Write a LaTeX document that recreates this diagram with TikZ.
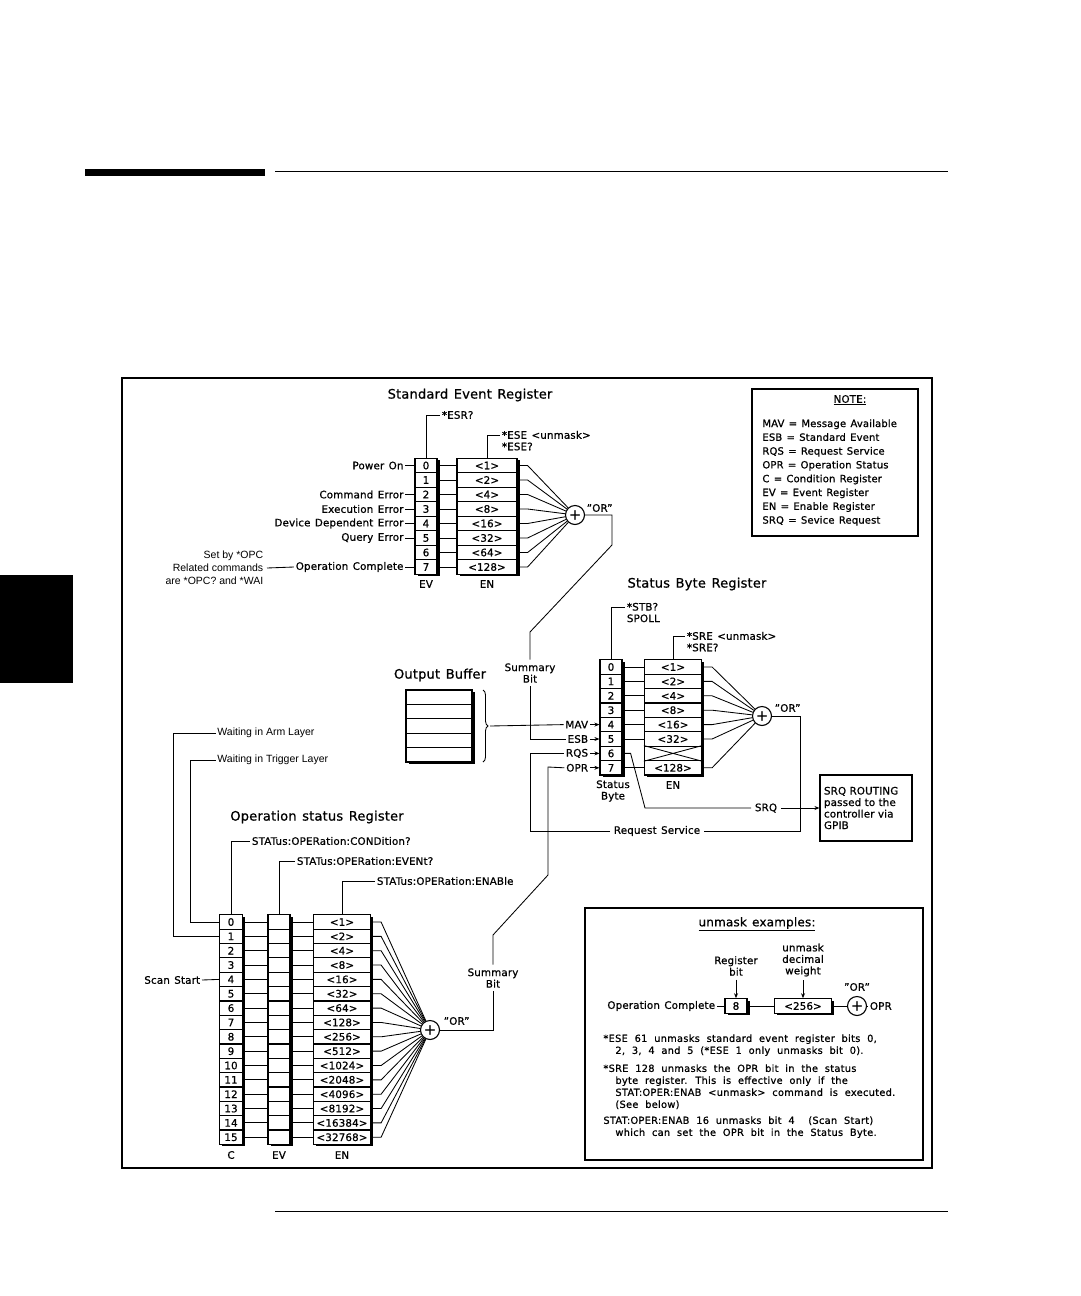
\documentclass[tikz,border=0pt]{standalone}
\usepackage{fontspec}
\setmainfont[LetterSpace=1.5,WordSpace=1.3,FakeBold=0.8]{DejaVu Sans}
\newfontfamily\arialfont{Liberation Sans}
\newfontfamily\widefont[LetterSpace=3,WordSpace=2,FakeBold=0.8]{DejaVu Sans}
\usetikzlibrary{arrows.meta,positioning,shadows,calc,decorations.pathreplacing}
\newcommand{\orq}{\symbol{34}OR\symbol{34}}
\tikzset{
    cell/.style={draw, line width=1.2pt, fill=white, minimum height=14.4pt, inner sep=0pt,
        drop shadow={shadow xshift=2.5pt, shadow yshift=-2pt, fill=black, opacity=1}},
    orgate/.style={draw, line width=1.1pt, circle, minimum size=19pt, inner sep=0pt, fill=white},
    regtitle/.style={font=\fontsize{13}{15}\selectfont},
    lbl/.style={inner sep=1.5pt},
    tip/.style={-{Stealth[length=5pt, width=4pt]}},
    framebox/.style={draw, line width=1.1pt},
    extext/.style={anchor=north west, align=left, inner sep=0pt, font=\widefont\fontsize{9.8}{12}\selectfont}
}
\begin{document}
\begin{tikzpicture}[x=1pt, y=-1pt, line width=0.85pt, font=\fontsize{10.3}{11.5}\selectfont]
\useasboundingbox (0,0) rectangle (1080,1296);
% page decoration
\fill (85,169) rectangle (265,176);
\draw (275,171) -- (948,171);
\draw (275,1211) -- (948,1211);
\fill (0,575) rectangle (73,683);
\draw[line width=1.6pt] (122,378) rectangle (932,1168);

% Standard Event Register
\node[regtitle] at (470,395) {Standard Event Register};
\foreach \w [count=\i from 0] in {1,2,4,8,16,32,64,128} {
    \node[cell, minimum width=22pt] (sev\i) at (426,{465.5+14.5*\i}) {\i};
    \node[cell, minimum width=60pt] (sen\i) at (487,{465.5+14.5*\i}) {<\w>};
}
\node[orgate] (sor) at (575,515) {\Large +};
\foreach \i in {0,...,7} {
    \draw (sev\i.east) -- (sen\i.west);
    \draw (sen\i.east) -- ++(10,0) -- (sor);
}
\foreach \i/\t in {0/Power On,2/Command Error,3/Execution Error,4/Device Dependent Error,5/Query Error} {
    \draw (sev\i.west) -- ++(-9,0) node[left, lbl] {\t};
}
\draw (sev7.west) -- ++(-9,0) node[left, lbl] (lopc) {Operation Complete};
\node[left, align=right, font=\arialfont\fontsize{10.5}{13}\selectfont] (opcnote) at (267,568) {Set by *OPC\\Related commands\\are *OPC? and *WAI};
\draw (opcnote.east) -- (lopc.west);
\node at (426,584) {EV};
\node at (487,584) {EN};
\draw (sev0.north) |- (440,415) node[right, lbl] {*ESR?};
\draw (sen0.north) |- (500,435) node[right, lbl, align=left, anchor=north west, yshift=6pt] {*ESE <unmask>\\*ESE?};
\node[right] at (583,508) {\orq};

% Summary bit from Standard Event Register
\node[align=center] (sumbit1) at (530,673) {Summary\\Bit};
\draw (sor.east) -- (612,515) -- (612,545) -- (530,632) -- (sumbit1.north);

% Status Byte Register
\node[regtitle] at (697,584) {Status Byte Register};
\foreach \w [count=\i from 0] in {1,2,4,8,16,32,{},128} {
    \node[cell, minimum width=22pt] (ssb\i) at (611,{667+14.4*\i}) {\i};
    \node[cell, minimum width=57pt] (ssn\i) at (673,{667+14.4*\i}) {\ifx\w\empty\else<\w>\fi};
}
\draw (ssn6.north west) -- (ssn6.south east) (ssn6.south west) -- (ssn6.north east);
\node[orgate] (sbor) at (762,716) {\Large +};
\foreach \i in {0,1,2,3,4,5,7} {
    \draw (ssb\i.east) -- (ssn\i.west);
    \draw (ssn\i.east) -- ++(10,0) -- (sbor);
}
\node[right] at (771,708) {\orq};
\node[align=center] at (613,791) {Status\\Byte};
\node at (673,785) {EN};
\draw (ssb0.north) |- (625,607) node[right, lbl, align=left, anchor=north west, yshift=6pt] {*STB?\\SPOLL};
\draw (ssn0.north) |- (685,636) node[right, lbl, align=left, anchor=north west, yshift=6pt] {*SRE <unmask>\\*SRE?};
\foreach \i/\t in {4/MAV,5/ESB,6/RQS,7/OPR} {
    \node[left, lbl] (l\t) at (590,{667+14.4*\i}) {\t};
    \draw[tip] (l\t.east) -- (ssb\i.west);
}
\draw (sumbit1.south) |- (lESB.west);

% SRQ routing
\node[framebox, align=left, text width=84pt, minimum height=66pt, inner sep=4pt] (srqbox) at (866,808) {SRQ ROUTING\\passed to the\\controller via\\GPIB};
\node (lsrq) at (766,808) {SRQ};
\draw (ssb6.east) -- ++(8,0) -- (645,808) -- (lsrq.west);
\draw[tip] (lsrq.east) -- (srqbox.west);
\node (lreqsvc) at (657,831) {Request Service};
\draw (sbor.east) -- (800,716) -- (800,831) -- (lreqsvc.east);
\draw (lreqsvc.west) -- (530,831) |- (lRQS.west);

% Output Buffer
\node[regtitle] at (440,675) {Output Buffer};
\foreach \i in {0,...,4} {
    \node[cell, minimum width=66pt] (obuf\i) at (439,{697.2+14.4*\i}) {};
}
\draw[decorate, decoration={brace, amplitude=5pt}] (483,690) -- (483,762);
\coordinate (bufout) at (490,726);
\draw (bufout) -- (lMAV.west);

% Operation status Register
\node[regtitle] at (317,817) {Operation status Register};
\foreach \w [count=\i from 0] in {1,2,4,8,16,32,64,128,256,512,1024,2048,4096,8192,16384,32768} {
    \node[cell, minimum width=23pt] (oc\i) at (231,{922+14.35*\i}) {\i};
    \node[cell, minimum width=22pt] (oe\i) at (279,{922+14.35*\i}) {};
    \node[cell, minimum width=57pt] (on\i) at (342,{922+14.35*\i}) {<\w>};
}
\node[orgate] (oor) at (430,1030) {\Large +};
\foreach \i in {0,...,15} {
    \draw (oc\i.east) -- (oe\i.west);
    \draw (oe\i.east) -- (on\i.west);
    \draw (on\i.east) -- ++(10,0) -- (oor);
}
\node[right] at (440,1021) {\orq};
\node at (231,1155) {C};
\node at (279,1155) {EV};
\node at (342,1155) {EN};
\draw (oc0.north) |- (250,841) node[right, lbl] {STATus:OPERation:CONDition?};
\draw (oe0.north) |- (295,861) node[right, lbl] {STATus:OPERation:EVENt?};
\draw (on0.north) |- (375,881) node[right, lbl] {STATus:OPERation:ENABle};
\node[left, lbl] (lscan) at (202,980) {Scan Start};
\draw (lscan.east) -- (oc4.west);
\node[right, inner sep=1pt, font=\arialfont\fontsize{10.5}{12}\selectfont] (warm) at (216,733) {Waiting in Arm Layer};
\node[right, inner sep=1pt, font=\arialfont\fontsize{10.5}{12}\selectfont] (wtrig) at (216,760) {Waiting in Trigger Layer};
\draw (warm.west) -- (173,733) |- (oc1.west);
\draw (wtrig.west) -- (190,760) |- (oc0.west);

% OPR summary bit
\node[align=center] (sumbit2) at (493,978) {Summary\\Bit};
\draw (lOPR.west) -- (548,767) -- (548,875) -- (493,935) -- (sumbit2.north);
\draw (sumbit2.south) |- (oor.east);

% NOTE box
\draw[line width=1.1pt] (752,389) rectangle (918,536);
\node at (850,400) {\underline{NOTE:}};
\node[anchor=north west, align=left, inner sep=0pt, font=\fontsize{10}{13.8}\selectfont] at (762,419) {MAV = Message Available\\ESB = Standard Event\\RQS = Request Service\\OPR = Operation Status\\C = Condition Register\\EV = Event Register\\EN = Enable Register\\SRQ = Sevice Request};

% unmask examples
\draw[line width=1.1pt] (585,908) rectangle (923,1160);
\node[font=\fontsize{12}{14}\selectfont] at (757,924) {\underline{unmask examples:}};
\node[align=center] (regbit) at (736,966) {Register\\bit};
\node[align=center] (unwt) at (803,960) {unmask\\decimal\\weight};
\node[cell, minimum width=22pt] (exbit) at (736,1006) {8};
\node[cell, minimum width=57pt] (exwt) at (803,1006) {<256>};
\node[orgate] (exor) at (857,1006) {\Large +};
\node at (857,987) {\orq};
\node[right, lbl] (exopr) at (868,1006) {OPR};
\node[left, lbl] (exopc) at (717,1006) {Operation Complete};
\draw[tip] (regbit.south) -- (exbit.north);
\draw[tip] (unwt.south) -- (exwt.north);
\draw (exopc.east) -- (exbit.west);
\draw (exbit.east) -- (exwt.west);
\draw (exwt.east) -- (exor.west);
\draw (exor.east) -- (exopr.west);
\node[extext] at (603,1034) {*ESE 61 unmasks standard event register bits 0,\\\hspace*{12pt}2, 3, 4 and 5 (*ESE 1 only unmasks bit 0).};
\node[extext] at (603,1064) {*SRE 128 unmasks the OPR bit in the status\\\hspace*{12pt}byte register. This is effective only if the\\\hspace*{12pt}STAT:OPER:ENAB <unmask> command is executed.\\\hspace*{12pt}(See below)};
\node[extext] at (603,1116) {STAT:OPER:ENAB 16 unmasks bit 4 \ (Scan Start)\\\hspace*{12pt}which can set the OPR bit in the Status Byte.};
\end{tikzpicture}
\end{document}
